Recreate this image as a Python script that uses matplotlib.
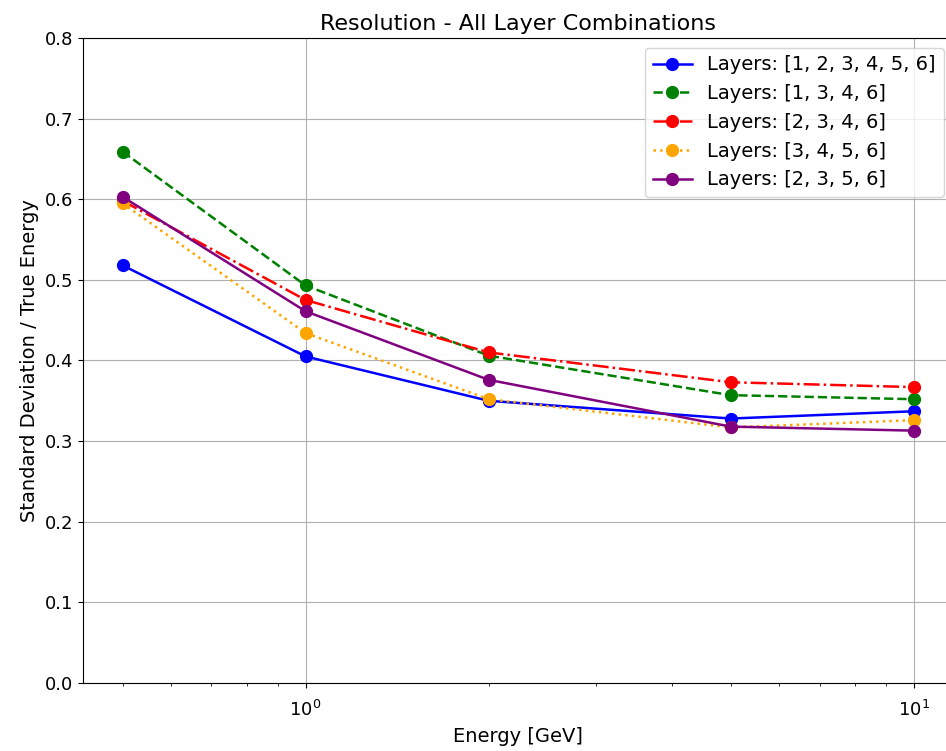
import matplotlib
matplotlib.use("Agg")
import matplotlib.pyplot as plt

# energies in GeV
energy = [0.5, 1, 2, 5, 10]

# resolution for each layer combination
res_123456 = [0.518, 0.405, 0.350, 0.328, 0.337]
res_1346 = [0.659, 0.493, 0.406, 0.357, 0.352]
res_2346 = [0.598, 0.475, 0.410, 0.373, 0.367]
res_3456 = [0.595, 0.434, 0.352, 0.317, 0.326]
res_2356 = [0.603, 0.461, 0.376, 0.318, 0.313]

labels = ["Layers: [1, 2, 3, 4, 5, 6]", "Layers: [1, 3, 4, 6]",
          "Layers: [2, 3, 4, 6]", "Layers: [3, 4, 5, 6]", "Layers: [2, 3, 5, 6]"]

fig = plt.figure(figsize=(9.46, 7.51), dpi=100)
ax = fig.add_axes([0.0877, 0.0905, 0.92, 0.859])

ax.plot(energy, res_123456, "o-", color="blue", label=labels[0], markersize=8.5, linewidth=1.8)
ax.plot(energy, res_1346, "o--", color="green", label=labels[1], markersize=8.5, linewidth=1.8)
ax.plot(energy, res_2346, "o-.", color="red", label=labels[2], markersize=8.5, linewidth=1.8)
ax.plot(energy, res_3456, "o:", color="orange", label=labels[3], markersize=8.5, linewidth=1.8)
ax.plot(energy, res_2356, "o-", color="purple", label=labels[4], markersize=8.5, linewidth=1.8)

ax.set_xscale("log")
ax.set_ylim(0, 0.8)
ax.set_xlabel("Energy [GeV]", fontsize=14, labelpad=5)
ax.set_ylabel("Standard Deviation / True Energy", fontsize=14)
ax.set_title("Resolution - All Layer Combinations", fontsize=16)
ax.tick_params(labelsize=13)
ax.tick_params(axis="x", which="both", pad=9)
ax.grid(True)
ax.legend(fontsize=14, loc="upper right")

fig.savefig("out.png", dpi=100)
